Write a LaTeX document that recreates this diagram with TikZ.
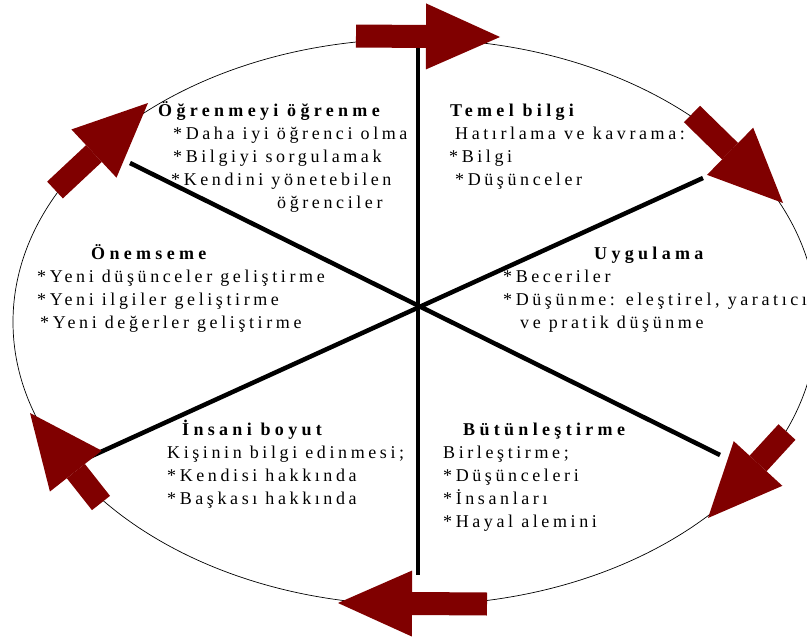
\documentclass[tikz,border=0pt]{standalone}
\usepackage{fontspec}
\setmainfont{Liberation Serif}[LetterSpace=20,BoldFeatures={LetterSpace=24}]
\usepackage{xcolor}
\usetikzlibrary{arrows.meta,calc}
\definecolor{arrowred}{HTML}{800000}

\begin{document}
\begin{tikzpicture}[line join=miter,x=1pt,y=-1pt,
    rim/.style={draw=black,line width=0.7pt},
    spoke/.style={draw=black,line width=4.5pt,line cap=butt},
    cyclearrow/.style={draw=arrowred,line width=23pt,line cap=butt,
        -{Triangle[length=74pt,width=66pt,line width=0pt]}},
    txt/.style={anchor=base west,inner sep=0pt,font=\fontsize{18pt}{22pt}\selectfont},
    head/.style={txt,font=\fontsize{18pt}{22pt}\selectfont\bfseries}]
                \useasboundingbox (0,0) rectangle (807,637);
                \draw [rim] (415,322) ellipse [x radius=402, y radius=283];
                % spokes
                \coordinate (hub) at (418,306);
                \coordinate (top) at (418,45);
                \coordinate (bot) at (418,575);
                \coordinate (ul) at (130,163);
                \coordinate (lr) at (720,455);
                \coordinate (ur) at (703,178);
                \coordinate (ll) at (83,460);
                \draw [spoke] (top)-- (bot);
                \draw [spoke] (ul)-- (lr);
                \draw [spoke] (ur)-- (ll);
                % arrows round the rim
                \coordinate (a1s) at (356,36);
                \coordinate (a1e) at (500,37);
                \coordinate (a2s) at (692,114);
                \coordinate (a2e) at (783,203);
                \coordinate (a3s) at (787,432);
                \coordinate (a3e) at (708,518);
                \coordinate (a4s) at (487,604);
                \coordinate (a4e) at (338,603);
                \coordinate (a5s) at (101,503);
                \coordinate (a5e) at (30,413);
                \coordinate (a6s) at (55,190);
                \coordinate (a6e) at (148,103);
                \draw [cyclearrow] (a1s)-- (a1e);
                \draw [cyclearrow] (a2s)-- (a2e);
                \draw [cyclearrow] (a3s)-- (a3e);
                \draw [cyclearrow] (a4s)-- (a4e);
                \draw [cyclearrow] (a5s)-- (a5e);
                \draw [cyclearrow] (a6s)-- (a6e);
                % texts
                \node[head] (ogr) at (158,116) {Öğrenmeyi öğrenme};
                \node[txt] (ogr1) at (173,139) {*Daha iyi öğrenci olma};
                \node[txt] (ogr2) at (173,162) {*Bilgiyi sorgulamak};
                \node[txt] (ogr3) at (171,185) {*Kendini yönetebilen};
                \node[txt] (ogr4) at (277,208) {öğrenciler};
                \node[head] (tem) at (450,116) {Temel bilgi};
                \node[txt] (tem1) at (455,139) {Hatırlama ve kavrama:};
                \node[txt] (tem2) at (449,162) {*Bilgi};
                \node[txt] (tem3) at (455,185) {*Düşünceler};
                \node[head] (uyg) at (594,259) {Uygulama};
                \node[txt] (uyg1) at (503,282) {*Beceriler};
                \node[txt] (uyg2) at (503,305) {*Düşünme: eleştirel, yaratıcı};
                \node[txt] (uyg3) at (520,328) {ve pratik düşünme};
                \node[head] (onem) at (91,259) {Önemseme};
                \node[txt] (onem1) at (37,282) {*Yeni düşünceler geliştirme};
                \node[txt] (onem2) at (37,305) {*Yeni ilgiler geliştirme};
                \node[txt] (onem3) at (40,328) {*Yeni değerler geliştirme};
                \node[head] (ins) at (182,435) {İnsani boyut};
                \node[txt] (ins1) at (167,458) {Kişinin bilgi edinmesi;};
                \node[txt] (ins2) at (167,481) {*Kendisi hakkında};
                \node[txt] (ins3) at (167,504) {*Başkası hakkında};
                \node[head] (but) at (463,435) {Bütünleştirme};
                \node[txt] (but1) at (443,458) {Birleştirme;};
                \node[txt] (but2) at (443,481) {*Düşünceleri};
                \node[txt] (but3) at (443,504) {*İnsanları};
                \node[txt] (but4) at (443,527) {*Hayal alemini};
            \end{tikzpicture}
\end{document}
